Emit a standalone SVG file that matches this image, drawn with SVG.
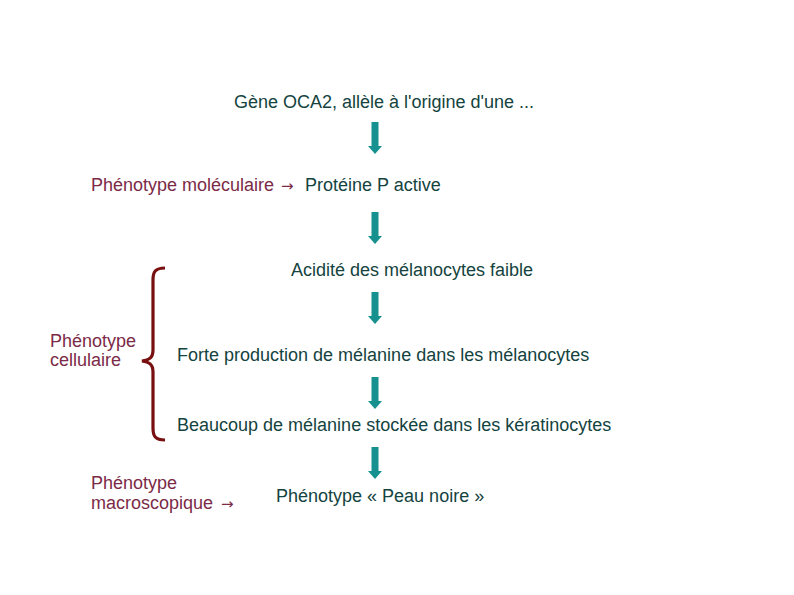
<svg xmlns="http://www.w3.org/2000/svg" width="794" height="595" viewBox="0 0 794 595">
<defs>
<style>
text{font-family:"Liberation Sans",Arial,sans-serif;font-size:18px}
.t{fill:#144340}
.m{fill:#7b2a47}
.ar{font-family:"DejaVu Sans",sans-serif;font-size:15px}
.arr{fill:#17918f}
</style>
<path id="a" class="arr" d="M-3.5,0 H3.5 V24 H7 L0,32 L-7,24 H-3.5 Z"/>
</defs>
<rect width="794" height="595" fill="#fff"/>
<g id="n1"><text class="t" x="234" y="108">Gène OCA2, allèle à l'origine d'une ...</text></g>
<g id="n2"><text x="91" y="191"><tspan class="m">Phénotype moléculaire</tspan><tspan class="m ar" x="281">→</tspan><tspan class="t" x="305">Protéine P active</tspan></text></g>
<g id="n3"><text class="t" x="291" y="276">Acidité des mélanocytes faible</text></g>
<g id="n4"><text class="t" x="177" y="361">Forte production de mélanine dans les mélanocytes</text></g>
<g id="n5"><text class="t" x="177" y="431">Beaucoup de mélanine stockée dans les kératinocytes</text></g>
<g id="n6"><text class="t" x="276" y="502">Phénotype « Peau noire »</text></g>
<g id="lab-cell"><text class="m" x="50" y="347">Phénotype</text><text class="m" x="50" y="366">cellulaire</text></g>
<g id="lab-macro"><text class="m" x="91" y="489">Phénotype</text><text class="m" x="91" y="509">macroscopique<tspan class="ar" x="221">→</tspan></text></g>
<g id="brace"><path d="M165,268 C155,268 153,272 153,280 V350 C153,358 149,360 142,361 C149,362 153,364 153,372 V428 C153,436 155,440 165,440" fill="none" stroke="#780f10" stroke-width="3.2"/></g>
<g id="connectors">
<use href="#a" x="375" y="122"/>
<use href="#a" x="375" y="212"/>
<use href="#a" x="375" y="292"/>
<use href="#a" x="375" y="377"/>
<use href="#a" x="375" y="447"/>
</g>
</svg>
